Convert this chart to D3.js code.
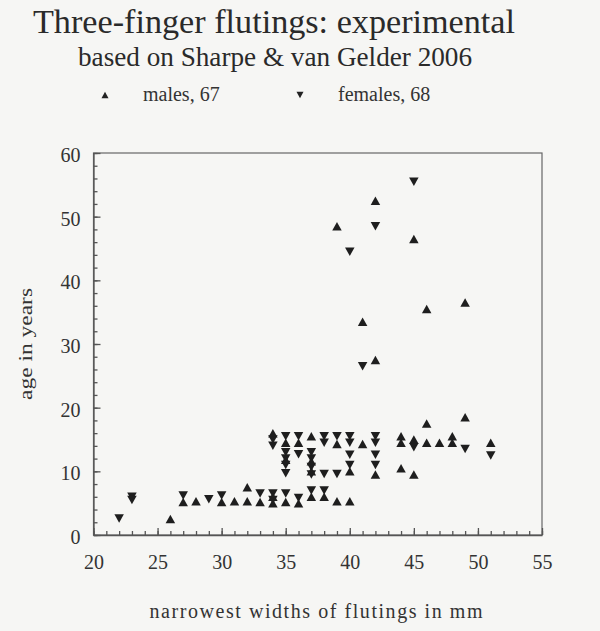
<!DOCTYPE html>
<html>
<head>
<meta charset="utf-8">
<script src="https://cdn.jsdelivr.net/npm/d3@7"></script>
<style>
  html, body { margin: 0; padding: 0; background: #f6f6f4; }
  svg { display: block; font-family: "Liberation Serif", "DejaVu Serif", serif; }
  .axis path, .axis line { stroke: #555; stroke-width: 1.3; }
  .axis text { font-family: "Liberation Serif", serif; font-size: 20px; fill: #333; }
</style>
</head>
<body>
<svg id="chart" width="600" height="631"></svg>
<script>
/* Three-finger flutings scatter: narrowest width (mm) vs age (years). */

const maleWidth = [26, 27, 28, 30, 31, 32, 32, 33, 34, 34, 35, 36, 37, 38, 39, 40,
                   34, 35, 36, 37, 39, 41,
                   35, 37, 37, 40, 42,
                   44, 44, 45, 46, 47, 48, 48, 51, 44, 45, 46, 49,
                   42, 41, 46, 49, 45, 39, 42];
const maleAge   = [2.5, 5.2, 5.3, 5.2, 5.3, 7.5, 5.3, 5.2, 5, 6, 5.2, 5, 6, 6, 5.3, 5.3,
                   16, 14.5, 14.5, 15.5, 14.3, 14.3,
                   11.8, 11.6, 10, 10, 9.5,
                   15.5, 14.5, 15, 14.5, 14.5, 15.5, 14.5, 14.5, 10.5, 9.5, 17.5, 18.5,
                   27.5, 33.5, 35.5, 36.5, 46.5, 48.5, 52.5];

const femaleWidth = [22, 23, 23, 27, 29, 30, 33, 34, 34, 35, 36, 37, 38,
                     34, 34, 35, 36, 38, 38, 39, 40, 40, 42, 42,
                     35, 35, 35, 35, 36, 37, 37, 37, 37, 38, 39, 40, 40, 42, 42,
                     45, 49, 51,
                     41, 40, 42, 45];
const femaleAge   = [2.6, 6, 5.5, 6.2, 5.6, 6.2, 6.5, 6.5, 5.5, 6.5, 5.8, 7, 7,
                     15, 14, 15.5, 15.5, 15.5, 14.5, 15.5, 15.5, 14.5, 15.5, 14.5,
                     13, 12, 11, 9.7, 12.7, 13, 12, 10.7, 9.5, 9.6, 9.6, 12.6, 11, 12.6, 11,
                     13.8, 13.5, 12.5,
                     26.5, 44.5, 48.5, 55.5];

const xMajorTicks = [20, 25, 30, 35, 40, 45, 50, 55];
const yMajorTicks = [0, 10, 20, 30, 40, 50, 60];

const svg = d3.select("#chart");

const x = d3.scaleLinear().domain([20, 55]).range([93.5, 542]);
const y = d3.scaleLinear().domain([0, 60]).range([535, 153]);

/* ---------- TITLES ---------- */

svg.append("text")
  .attr("x", 274).attr("y", 33)
  .attr("text-anchor", "middle")
  .attr("font-size", 34)
  .attr("textLength", 482).attr("lengthAdjust", "spacingAndGlyphs")
  .attr("fill", "#2a2a2a")
  .text("Three-finger flutings: experimental");

svg.append("text")
  .attr("x", 275).attr("y", 66)
  .attr("text-anchor", "middle")
  .attr("font-size", 27)
  .attr("textLength", 394).attr("lengthAdjust", "spacingAndGlyphs")
  .attr("fill", "#2a2a2a")
  .text("based on Sharpe & van Gelder 2006");

/* Triangle path centred on its bounding box. */
function tri(w, h, up) {
  return up
    ? "M0," + (-h / 2) + "L" + (w / 2) + "," + (h / 2) + "L" + (-w / 2) + "," + (h / 2) + "Z"
    : "M0," + (h / 2) + "L" + (w / 2) + "," + (-h / 2) + "L" + (-w / 2) + "," + (-h / 2) + "Z";
}

/* ---------- LEGEND ---------- */

const legend = [
  { label: "males, 67", up: true, mx: 105, tx: 143 },
  { label: "females, 68", up: false, mx: 300, tx: 338 }
];
legend.forEach(function (l) {
  svg.append("path")
    .attr("d", tri(7, 6.5, l.up))
    .attr("transform", "translate(" + l.mx + ",95)")
    .attr("fill", "#222");
  svg.append("text")
    .attr("x", l.tx).attr("y", 101)
    .attr("font-size", 20)
    .attr("fill", "#333")
    .text(l.label);
});

/* ---------- AXES ---------- */

svg.append("rect")
  .attr("x", x(20)).attr("y", y(60))
  .attr("width", x(55) - x(20)).attr("height", y(0) - y(60))
  .attr("fill", "none").attr("stroke", "#666").attr("stroke-width", 1.2);

svg.append("g").attr("class", "axis")
  .attr("transform", "translate(0," + y(0) + ")")
  .call(d3.axisBottom(x).tickValues(d3.range(20, 56, 1)).tickSize(-4).tickFormat(""))
  .call(function (g) { g.select(".domain").remove(); });

svg.append("g").attr("class", "axis")
  .attr("transform", "translate(0," + y(0) + ")")
  .call(d3.axisBottom(x).tickValues(xMajorTicks).tickSizeInner(-7).tickSizeOuter(0).tickPadding(20));

svg.append("g").attr("class", "axis")
  .attr("transform", "translate(" + x(20) + ",0)")
  .call(d3.axisLeft(y).tickValues(d3.range(0, 61, 2)).tickSize(-4).tickFormat(""))
  .call(function (g) { g.select(".domain").remove(); });

svg.append("g").attr("class", "axis")
  .attr("transform", "translate(" + x(20) + ",0)")
  .call(d3.axisLeft(y).tickValues(yMajorTicks).tickSizeInner(-7).tickSizeOuter(0).tickPadding(13))
  .call(function (g) { g.selectAll("text").attr("dy", "0.42em"); });

svg.append("text")
  .attr("transform", "translate(32,344) rotate(-90)")
  .attr("text-anchor", "middle")
  .attr("font-size", 19)
  .attr("textLength", 112).attr("lengthAdjust", "spacingAndGlyphs")
  .attr("fill", "#333")
  .text("age in years");

svg.append("text")
  .attr("x", 316).attr("y", 618)
  .attr("text-anchor", "middle")
  .attr("font-size", 20)
  .attr("textLength", 333).attr("lengthAdjust", "spacing")
  .attr("fill", "#333")
  .text("narrowest widths of flutings in mm");

/* ---------- POINTS ---------- */

const males = maleWidth.map(function (w, i) { return { w: w, a: maleAge[i] }; });
const females = femaleWidth.map(function (w, i) { return { w: w, a: femaleAge[i] }; });

svg.append("g").selectAll("path")
  .data(females)
  .enter().append("path")
  .attr("d", tri(9.5, 8.5, false))
  .attr("transform", function (d) { return "translate(" + x(d.w) + "," + y(d.a) + ")"; })
  .attr("fill", "#1e1e1e");

svg.append("g").selectAll("path")
  .data(males)
  .enter().append("path")
  .attr("d", tri(9.5, 8.5, true))
  .attr("transform", function (d) { return "translate(" + x(d.w) + "," + y(d.a) + ")"; })
  .attr("fill", "#1e1e1e");
</script>
</body>
</html>
